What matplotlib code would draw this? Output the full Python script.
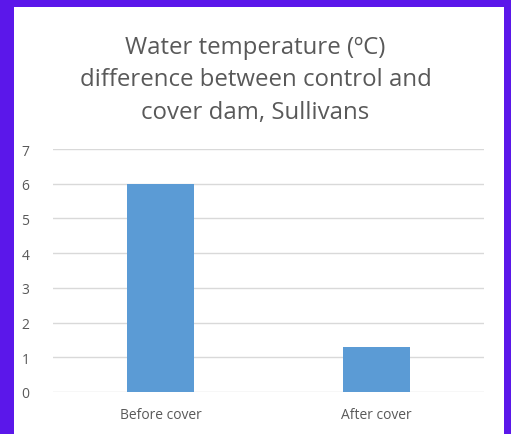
import matplotlib.pyplot as plt
from matplotlib.patches import Rectangle

categories = ["Before cover", "After cover"]
values = [6.0, 1.3]
yticks = [0, 1, 2, 3, 4, 5, 6, 7]

fig = plt.figure(figsize=(5.11, 4.35), dpi=100)
fig.patch.set_facecolor("#5b17ea")
# white card inside the purple frame
fig.patches.append(Rectangle((14/511, 0), (504-14)/511, (435-8)/435,
                             transform=fig.transFigure, facecolor="white",
                             edgecolor="none", zorder=-1))

ax = fig.add_axes([53/511, (435-393)/435, (484-53)/511, (393-150)/435])
ax.set_zorder(2)
ax.set_facecolor("none")
x = range(len(categories))
ax.bar(x, values, width=0.31, color="#5b9bd5", zorder=3)
ax.set_xlim(-0.5, 1.5)
ax.set_ylim(0, 7)
ax.set_yticks(yticks)
ax.set_xticks(list(x))
ax.set_xticklabels(categories)
ax.grid(axis="y", color="#d9d9d9", linewidth=1, zorder=0)
for s in ax.spines.values():
    s.set_visible(False)
ax.tick_params(axis="both", length=0, colors="#595959", labelsize=10)
for lab in ax.get_xticklabels() + ax.get_yticklabels():
    lab.set_family("Open Sans")
ax.tick_params(axis="x", pad=11)
ax.tick_params(axis="y", pad=17)

fig.text(0.5, 1 - 80.5/435, "Water temperature (\u00baC)\ndifference between control and\ncover dam, Sullivans",
         ha="center", va="center", fontsize=17.3, color="#595959", family="Open Sans",
         linespacing=1.5, zorder=3)

fig.savefig("out.png", dpi=100, facecolor=fig.get_facecolor())
